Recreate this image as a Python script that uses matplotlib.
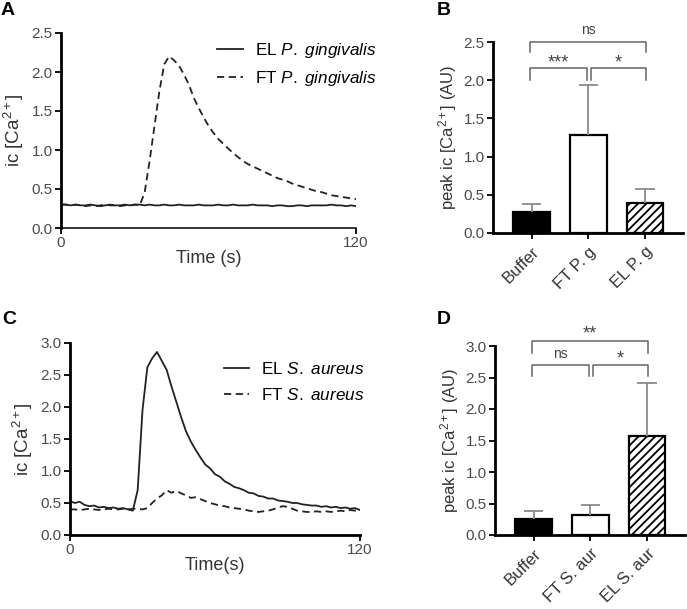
import matplotlib
matplotlib.use('Agg')
import matplotlib.pyplot as plt

plt.rcParams['font.family'] = ['Liberation Sans', 'DejaVu Sans']
plt.rcParams['mathtext.fontset'] = 'custom'
plt.rcParams['mathtext.rm'] = 'Liberation Sans'
plt.rcParams['mathtext.it'] = 'Liberation Sans:italic'
plt.rcParams['mathtext.bf'] = 'Liberation Sans:bold'
plt.rcParams['hatch.linewidth'] = 1.3

# ---------------- data ----------------
time_s = list(range(0, 121, 2))

el_pg = [0.30, 0.30, 0.29, 0.30, 0.29, 0.29, 0.30, 0.29, 0.28, 0.29, 0.30, 0.29,
         0.29, 0.30, 0.29, 0.30, 0.30, 0.29, 0.30, 0.29, 0.29, 0.30, 0.29, 0.29,
         0.30, 0.29, 0.29, 0.29, 0.30, 0.29, 0.29, 0.29, 0.30, 0.29, 0.29, 0.30,
         0.29, 0.29, 0.29, 0.30, 0.29, 0.29, 0.29, 0.28, 0.29, 0.29, 0.28, 0.28,
         0.29, 0.29, 0.28, 0.29, 0.29, 0.29, 0.29, 0.30, 0.29, 0.29, 0.28, 0.29,
         0.28]
ft_pg = [0.30, 0.30, 0.29, 0.30, 0.29, 0.28, 0.29, 0.28, 0.29, 0.30, 0.29, 0.29,
         0.28, 0.29, 0.29, 0.30, 0.29, 0.45, 0.85, 1.30, 1.75, 2.10, 2.20, 2.15,
         2.08, 1.97, 1.84, 1.67, 1.54, 1.42, 1.31, 1.22, 1.14, 1.08, 1.02, 0.96,
         0.91, 0.86, 0.82, 0.79, 0.76, 0.73, 0.70, 0.67, 0.64, 0.62, 0.60, 0.57,
         0.55, 0.53, 0.51, 0.49, 0.47, 0.46, 0.44, 0.42, 0.41, 0.40, 0.39, 0.38,
         0.37]

el_sa = [0.53, 0.50, 0.52, 0.47, 0.45, 0.46, 0.43, 0.44, 0.42, 0.43, 0.41, 0.42,
         0.40, 0.38, 0.70, 1.95, 2.62, 2.76, 2.86, 2.72, 2.58, 2.32, 2.08, 1.84,
         1.62, 1.46, 1.33, 1.21, 1.10, 1.04, 0.95, 0.91, 0.84, 0.80, 0.75, 0.73,
         0.70, 0.66, 0.65, 0.61, 0.60, 0.57, 0.57, 0.54, 0.53, 0.52, 0.50, 0.50,
         0.48, 0.47, 0.46, 0.46, 0.44, 0.45, 0.43, 0.44, 0.42, 0.43, 0.41, 0.42,
         0.39]
ft_sa = [0.40, 0.40, 0.39, 0.40, 0.41, 0.40, 0.39, 0.40, 0.41, 0.40, 0.40, 0.41,
         0.40, 0.41, 0.41, 0.40, 0.42, 0.50, 0.57, 0.62, 0.70, 0.66, 0.69, 0.65,
         0.62, 0.58, 0.59, 0.56, 0.53, 0.50, 0.48, 0.46, 0.45, 0.43, 0.42, 0.41,
         0.40, 0.38, 0.37, 0.36, 0.37, 0.38, 0.40, 0.43, 0.45, 0.44, 0.41, 0.38,
         0.37, 0.36, 0.36, 0.37, 0.36, 0.37, 0.36, 0.37, 0.38, 0.37, 0.39, 0.38,
         0.40]

groups_b = ['Buffer', 'FT P. g', 'EL P. g']
means_b = [0.27, 1.28, 0.39]
err_b = [0.115, 0.66, 0.19]

groups_d = ['Buffer', 'FT S. aur', 'EL S. aur']
means_d = [0.26, 0.32, 1.57]
err_d = [0.12, 0.16, 0.84]

W, H = 687, 609
fig = plt.figure(figsize=(W / 100, H / 100), dpi=100)


def px_axes(left, right, top, bottom):
    return fig.add_axes([left / W, 1 - bottom / H, (right - left) / W, (bottom - top) / H])


TICK_C = '#4a4a4a'
LABEL_C = '#333333'


def style_axes(ax, bottom_lw=2.0):
    for s in ('top', 'right'):
        ax.spines[s].set_visible(False)
    ax.spines['left'].set_linewidth(2.0)
    ax.spines['bottom'].set_linewidth(bottom_lw)
    ax.tick_params(axis='both', direction='out', length=4, width=1.3,
                   labelsize=11, labelcolor=TICK_C, pad=2)


# ---------------- Panel A ----------------
axA = px_axes(61, 356, 33, 228)
axA.plot(time_s, el_pg, color='#222222', lw=1.3, label=r'EL $\it{P.\ gingivalis}$')
axA.plot(time_s, ft_pg, color='#222222', lw=1.3, dashes=(4, 2.5),
         label=r'FT $\it{P.\ gingivalis}$')
axA.set_xlim(0, 120)
axA.set_ylim(0, 2.5)
axA.set_xticks([0, 120])
axA.set_yticks([0, 0.5, 1.0, 1.5, 2.0, 2.5])
axA.set_yticklabels(['0.0', '0.5', '1.0', '1.5', '2.0', '2.5'])
style_axes(axA, bottom_lw=1.1)
axA.set_xlabel('Time (s)', fontsize=13, color=LABEL_C, labelpad=0)
axA.set_ylabel(r'ic [Ca$^{2+}$]', fontsize=13.5, color=LABEL_C, labelpad=4)
axA.legend(loc='upper left', bbox_to_anchor=(0.53, 0.96), frameon=False,
           fontsize=12.3, handlelength=1.5, handletextpad=0.7, labelspacing=0.55,
           borderpad=0, borderaxespad=0)

# ---------------- Panel C ----------------
axC = px_axes(70, 360, 343, 535)
axC.plot(time_s, el_sa, color='#222222', lw=1.3, label=r'EL $\it{S.\ aureus}$')
axC.plot(time_s, ft_sa, color='#222222', lw=1.3, dashes=(4, 2.5),
         label=r'FT $\it{S.\ aureus}$')
axC.set_xlim(0, 120)
axC.set_ylim(0, 3.0)
axC.set_xticks([0, 120])
axC.set_yticks([0, 0.5, 1.0, 1.5, 2.0, 2.5, 3.0])
axC.set_yticklabels(['0.0', '0.5', '1.0', '1.5', '2.0', '2.5', '3.0'])
style_axes(axC, bottom_lw=2.0)
axC.set_xlabel('Time(s)', fontsize=13, color=LABEL_C, labelpad=0)
axC.set_ylabel(r'ic [Ca$^{2+}$]', fontsize=13.5, color=LABEL_C, labelpad=4)
axC.legend(loc='upper left', bbox_to_anchor=(0.53, 0.905), frameon=False,
           fontsize=12.3, handlelength=1.5, handletextpad=0.7, labelspacing=0.55,
           borderpad=0, borderaxespad=0)


# ---------------- bar panels ----------------
def bar_panel(ax, groups, means, errs, ymax, yticks):
    x = list(range(len(groups)))
    colors = ['black', 'white', 'white']
    hatches = [None, None, '////']
    for i in x:
        ax.bar(i, means[i], width=0.65, color=colors[i], edgecolor='black',
               linewidth=1.6, hatch=hatches[i], zorder=2)
    tops = [m + e for m, e in zip(means, errs)]
    ax.vlines(x, means, tops, color='#8a8a8a', lw=1.3, zorder=3)
    ax.hlines(tops, [v - 0.17 for v in x], [v + 0.17 for v in x],
              color='#8a8a8a', lw=1.3, zorder=3)
    ax.set_xlim(-0.68, 2.67)
    ax.set_ylim(0, ymax)
    ax.set_yticks(yticks)
    ax.set_yticklabels(['%.1f' % v for v in yticks])
    ax.set_xticks(x)
    ax.set_xticklabels(groups, rotation=45, ha='right', rotation_mode='anchor',
                       fontsize=12, color=LABEL_C)
    style_axes(ax, bottom_lw=2.0)
    ax.tick_params(axis='x', labelsize=12, labelcolor=LABEL_C, pad=4)
    ax.set_ylabel(r'peak ic [Ca$^{2+}$] (AU)', fontsize=12, color=LABEL_C, labelpad=3)


def bracket(ax, x1, x2, y, drop, text, ty, fs=11):
    ax.plot([x1, x1, x2, x2], [y - drop, y, y, y - drop], color='#666666', lw=1.1,
            clip_on=False, zorder=4)
    ax.text((x1 + x2) / 2, ty, text, ha='center', va='bottom', fontsize=fs,
            color='#444444', clip_on=False)


axB = px_axes(493, 683, 42, 233)
bar_panel(axB, groups_b, means_b, err_b, 2.5, [0, 0.5, 1.0, 1.5, 2.0, 2.5])
bracket(axB, -0.03, 2.02, 2.5, 0.13, 'ns', 2.56, fs=10)
bracket(axB, -0.03, 0.97, 2.16, 0.16, '***', 2.12, fs=13)
bracket(axB, 1.04, 2.02, 2.16, 0.16, '*', 2.12, fs=13)

axD = px_axes(495, 685, 346, 535)
bar_panel(axD, groups_d, means_d, err_d, 3.0, [0, 0.5, 1.0, 1.5, 2.0, 2.5, 3.0])
bracket(axD, -0.03, 2.02, 3.08, 0.19, '**', 3.05, fs=13)
bracket(axD, -0.03, 0.97, 2.70, 0.18, 'ns', 2.76, fs=10)
bracket(axD, 1.04, 2.02, 2.70, 0.18, '*', 2.66, fs=13)

# ---------------- panel letters ----------------
for lbl, xp, yp in [('A', 1, 2), ('B', 437, 2), ('C', 2, 311), ('D', 437, 311)]:
    fig.text(xp / W, 1 - yp / H, lbl, fontsize=14, fontweight='bold', va='top', ha='left')

fig.savefig('out.png', dpi=100)
